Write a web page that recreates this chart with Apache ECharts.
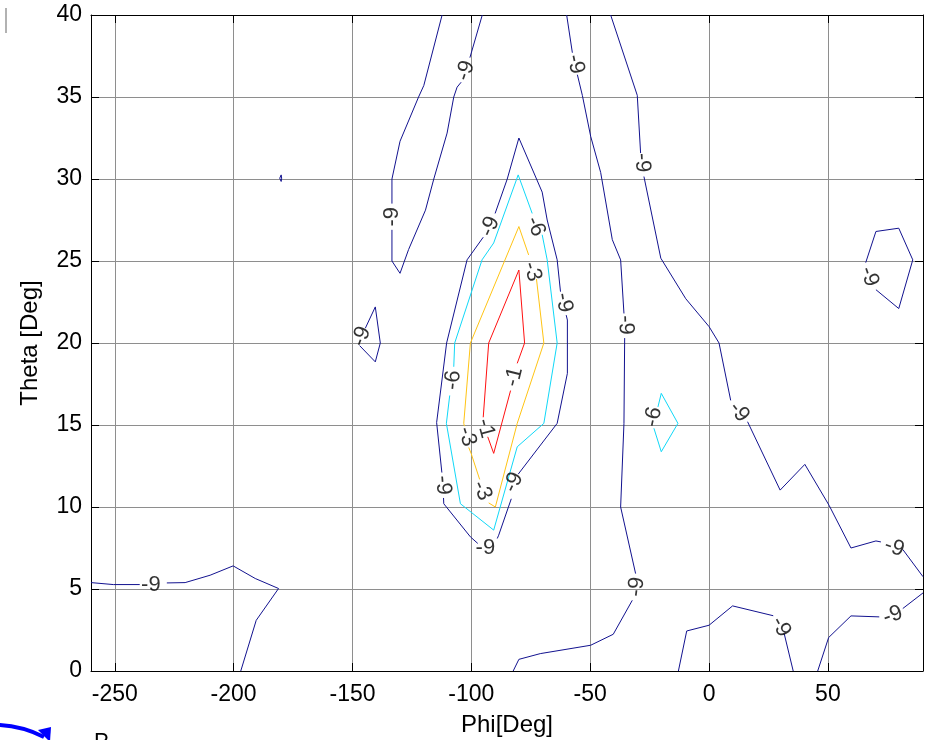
<!DOCTYPE html>
<html>
<head>
<meta charset="utf-8">
<script src="https://cdn.jsdelivr.net/npm/echarts@6/dist/echarts.min.js"></script>
<style>html,body{margin:0;padding:0;background:#fff}#c{width:928px;height:740px}</style>
</head>
<body>
<div id="c"></div>
<script>
// ---- axis ticks ----
const xTicks = [-250, -200, -150, -100, -50, 0, 50];

// ---- contour level -9 (navy), each entry is one visible polyline piece [phi, theta] ----
const levelNeg9 = [
  [[-112.3,40],[-120,35.7],[-122.2,35.0],[-130,32.3],[-133.4,30.0],[-133.4,28.5]],
  [[-133.4,26.9],[-133.4,25.0],[-130,24.25],[-126.4,25.7],[-119.3,28.1],[-115.8,30.0],[-110.2,32.8],[-107.4,35.0],[-106,35.6],[-104.3,35.9]],
  [[-100.6,37.4],[-95.4,40]],
  [[-180.0,30.25],[-180.6,30.05],[-180.0,29.85],[-179.8,30.05],[-180.0,30.25]],
  [[-144.6,20.9],[-140.4,22.2],[-138.3,20.0],[-140.4,18.85],[-147.0,19.84]],
  [[-260,5.39],[-250.6,5.27],[-239.5,5.27]],
  [[-228.1,5.37],[-220.4,5.39],[-209.9,5.84],[-200.2,6.41],[-190.9,5.64],[-181.1,5.03],[-190.5,3.09],[-197,0]],
  [[-62.5,23.13],[-63.9,25.07],[-68.1,27.5],[-70.2,29.2],[-80,32.5],[-84.9,30.0],[-90.0,27.9]],
  [[-95.0,26.45],[-101.8,25.07],[-110.4,20.0],[-114.6,15.15],[-112.4,12.1]],
  [[-111.7,10.55],[-111.6,10.2],[-100.4,8.18],[-97.3,7.78]],
  [[-89.1,8.08],[-88.5,8.28],[-83.2,10.5]],
  [[-80.3,12.0],[-63.9,15.1],[-59.6,18.15],[-59.6,21.4],[-60.1,21.7]],
  [[-59.9,40],[-57.5,37.7]],
  [[-55.4,36.36],[-53.3,35.1],[-49.8,32.6],[-45.6,30.4],[-40.7,26.3],[-37.2,25.07],[-35.8,21.8]],
  [[-35.5,20.3],[-35.8,15.1],[-37.2,10.0],[-30.9,5.94]],
  [[-32.3,4.31],[-40.3,2.24],[-49.8,1.57],[-71.0,1.06],[-80.0,0.71],[-82.4,0]],
  [[-41.4,40],[-30.2,35.1],[-28.8,31.58]],
  [[-27.4,30.15],[-20.3,25.17],[-9.8,22.7],[0,21.0],[4.2,20.0],[9.1,16.5]],
  [[16.2,15.2],[29.9,11.03],[40.3,12.6],[50.5,10.1],[59.7,7.5],[70.2,7.93],[72.3,7.87]],
  [[81.5,7.41],[90,5.75]],
  [[65.9,24.9],[70.2,26.8],[79.8,27.0],[85.7,25.07],[79.8,22.1],[70.2,23.25]],
  [[-12.9,0],[-9.4,2.44],[0,2.79],[9.9,3.97],[27.0,3.37]],
  [[31.6,2.28],[35.4,0]],
  [[45.7,0],[50.3,2.04],[59.7,3.36],[71.6,3.3]],
  [[81.5,3.81],[90,4.76]]
];

// ---- contour level -6 (cyan) ----
const levelNeg6 = [
  [[-74.4,27.9],[-80.3,30.25],[-90.6,26.1],[-95.5,25.07],[-107.0,20.0],[-107.4,18.55]],
  [[-109.1,16.8],[-110.5,15.1],[-104.6,10.2],[-90.6,8.59],[-80.7,13.67],[-69.5,15.1],[-63.9,20.0],[-68.1,25.07],[-70.2,26.6]],
  [[-21.5,16.1],[-20.1,16.93],[-13.1,15.1],[-20.1,13.37],[-23.2,14.8]]
];

// ---- contour level -3 (orange) ----
const levelNeg3 = [
  [[-75.9,25.37],[-80,27.1],[-100.4,20.0],[-103.2,15.1],[-102.9,14.93]],
  [[-101.1,13.63],[-100.1,13.27],[-96.5,11.68]],
  [[-92.7,10.25],[-89.9,10.0],[-80.7,15.1],[-69.5,20.0],[-72.6,23.9]]
];

// ---- contour level -1 (red) ----
const levelNeg1 = [
  [[-83.5,17.1],[-90.6,13.27],[-93.1,14.28]],
  [[-95.0,15.47],[-92.7,20.0],[-80,24.45],[-77.6,20.0],[-80.7,18.76]]
];

// ---- inline contour labels ----
const labelTexts = ['-9','-9','-9','-9','-9','-9','-9','-6','-3','-9','-9','-6','-1','-1','-3','-3','-9','-9','-9','-9','-6','-9','-9','-9','-9','-9'];
const labelPhi   = [-133.4,-102.4,-56.2,-28.1,-146.2,-234.8,-92.2,-73.0,-74.4,-61.1,-111.9,-107.7,-82.1,-94.0,-101.8,-95.5,-82.2,-94.1,-35.1,12.6,-23.4,67.4,-30.5,30.2,77.9,77.3];
const labelTheta = [27.7,36.6,37.0,31.0,20.4,5.27,27.1,27.1,24.35,22.46,11.33,17.74,17.94,14.8,14.3,11.0,11.5,7.53,21.1,15.8,15.5,24.05,5.13,2.69,7.53,3.4];
const labelRot   = [90,71,-78,-87,69,0,66,-68,-73,-80,-85,84,76,-75,-73,-66,65,0,-88,-52,78,-71,83,-62,-19,20];

const FONT = '"Liberation Sans", Arial, sans-serif';
const chart = echarts.init(document.getElementById('c'), null, {renderer: 'canvas'});

const series = [];
function addLevel(segs, color) {
  segs.forEach(function (seg) {
    series.push({
      type: 'line', data: seg, showSymbol: false, symbol: 'none', smooth: false,
      silent: true, animation: false, z: 3,
      lineStyle: {color: color, width: 1}
    });
  });
}
addLevel(levelNeg9, '#12128f');
addLevel(levelNeg6, '#10d8f8');
addLevel(levelNeg3, '#ffc414');
addLevel(levelNeg1, '#ff1010');

series.push({
  type: 'scatter', silent: true, animation: false, z: 5,
  symbolSize: 1, itemStyle: {color: 'rgba(0,0,0,0)'},
  data: labelTexts.map(function (t, i) {
    return {
      value: [labelPhi[i], labelTheta[i]],
      label: {show: true, formatter: t, rotate: labelRot[i]}
    };
  }),
  label: {show: true, position: 'inside', align: 'center', verticalAlign: 'middle',
          color: '#000', fontSize: 22, fontFamily: FONT}
});

const axisLineStyle = {color: '#000', width: 1};
const gridLineStyle = {color: '#8e8e8e', width: 1};

chart.setOption({
  animation: false,
  backgroundColor: '#fff',
  grid: {left: 91, right: 5, top: 15, bottom: 69, containLabel: false, outerBoundsMode: 'none',
         show: false},
  xAxis: [
    {type: 'value', min: -260, max: 90, splitNumber: 7, position: 'bottom',
     axisLine: {show: true, onZero: false, lineStyle: axisLineStyle},
     axisTick: {show: true, inside: true, length: 8, customValues: xTicks, lineStyle: axisLineStyle},
     axisLabel: {show: true, customValues: xTicks, fontSize: 23, color: '#000', fontFamily: FONT, margin: 12},
     splitLine: {show: true, lineStyle: gridLineStyle},
     name: 'Phi[Deg]', nameLocation: 'middle', nameGap: 42,
     nameTextStyle: {fontSize: 24, color: '#000', fontFamily: FONT}},
    {type: 'value', min: -260, max: 90, splitNumber: 7, position: 'top',
     axisLine: {show: true, onZero: false, lineStyle: axisLineStyle},
     axisTick: {show: true, inside: true, length: 8, customValues: xTicks, lineStyle: axisLineStyle},
     axisLabel: {show: false}, splitLine: {show: false}}
  ],
  yAxis: [
    {type: 'value', min: 0, max: 40, interval: 5, position: 'left',
     axisLine: {show: true, onZero: false, lineStyle: axisLineStyle},
     axisTick: {show: true, inside: true, length: 8, lineStyle: axisLineStyle},
     axisLabel: {show: true, fontSize: 23, color: '#000', fontFamily: FONT, margin: 9},
     splitLine: {show: true, lineStyle: gridLineStyle},
     name: 'Theta [Deg]', nameLocation: 'middle', nameGap: 49, nameRotate: 90,
     nameTextStyle: {fontSize: 24, color: '#000', fontFamily: FONT}},
    {type: 'value', min: 0, max: 40, interval: 5, position: 'right',
     axisLine: {show: true, onZero: false, lineStyle: axisLineStyle},
     axisTick: {show: true, inside: true, length: 8, lineStyle: axisLineStyle},
     axisLabel: {show: false}, splitLine: {show: false}}
  ],
  graphic: [
    {type: 'line', shape: {x1: 6, y1: 8, x2: 6, y2: 33}, style: {stroke: '#999', lineWidth: 1.5}, silent: true},
    {type: 'bezierCurve', shape: {x1: -2, y1: 725, cpx1: 22, cpy1: 726, x2: 44, y2: 737},
     style: {stroke: '#0000ff', lineWidth: 4, fill: null}, silent: true},
    {type: 'polygon', shape: {points: [[38, 730], [51, 727], [50, 742]]}, style: {fill: '#0000ff'}, silent: true},
    {type: 'text', left: 94, top: 731, style: {text: 'P', fontSize: 22, fill: '#000', fontFamily: FONT}, silent: true}
  ],
  series: series
});
</script>
</body>
</html>
